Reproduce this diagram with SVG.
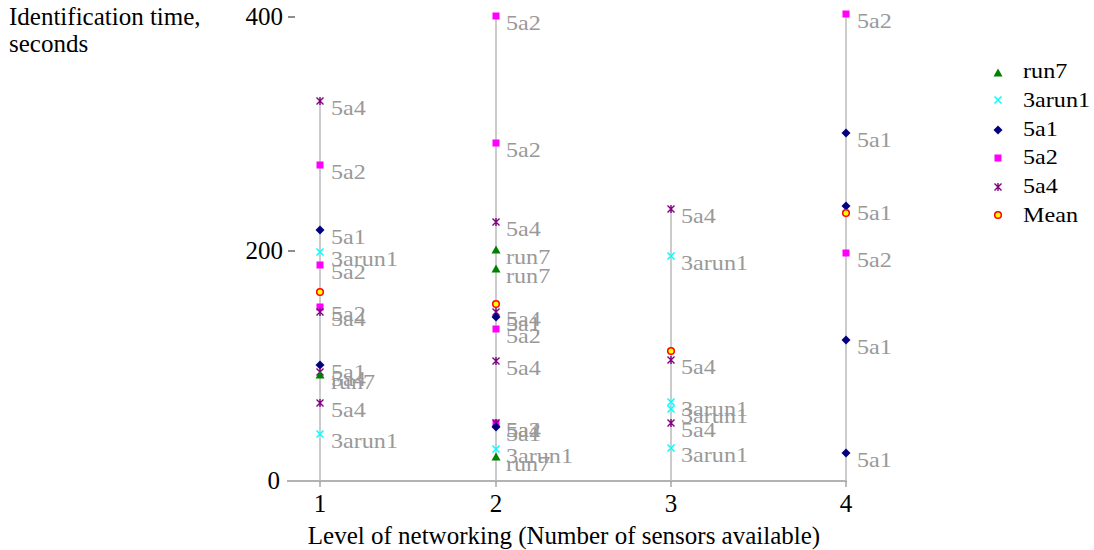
<svg xmlns="http://www.w3.org/2000/svg" xmlns:xlink="http://www.w3.org/1999/xlink" width="1094" height="550" viewBox="0 0 1094 550">
<style>
.ax{font-family:"Liberation Serif","Times New Roman",serif;font-size:25px;fill:#000}
.lb{font-family:"Liberation Serif","Times New Roman",serif;font-size:21px;fill:#999}
.lg{font-family:"Liberation Serif","Times New Roman",serif;font-size:21px;fill:#000}
.hl{stroke:#bbb;stroke-width:1.5}
.axl{stroke:#999;stroke-width:1.3}
</style>
<defs>
<path id="tri" d="M0,-4.5L4.5,3.5L-4.5,3.5Z" fill="#008000"/>
<path id="xm" d="M-3.5,-3.5L3.5,3.5M-3.5,3.5L3.5,-3.5" stroke="#00ffff" stroke-width="1.5" fill="none"/>
<path id="dia" d="M0,-4.5L4.5,0L0,4.5L-4.5,0Z" fill="#000080"/>
<rect id="sq" x="-3.5" y="-3.5" width="7" height="7" fill="#ff00ff"/>
<path id="st" d="M-3.5,-3.5L3.5,3.5M-3.5,3.5L3.5,-3.5M0,-4L0,4" stroke="#800080" stroke-width="1.4" fill="none"/>
<circle id="mn" r="3.3" fill="#ffff00" stroke="#ff0000" stroke-width="1.5"/>
</defs>
<rect width="1094" height="550" fill="#fff"/>

<g id="axes">
<line class="axl" x1="287" y1="481" x2="847" y2="481"/>
<line class="axl" x1="320" y1="481" x2="320" y2="487"/>
<line class="axl" x1="496" y1="481" x2="496" y2="487"/>
<line class="axl" x1="671" y1="481" x2="671" y2="487"/>
<line class="axl" x1="846" y1="481" x2="846" y2="487"/>
<line x1="288" y1="17" x2="295" y2="17" stroke="#444" stroke-width="1.2"/>
<line x1="288" y1="251" x2="295" y2="251" stroke="#444" stroke-width="1.2"/>
<text class="ax" x="283" y="25" text-anchor="end">400</text>
<text class="ax" x="283" y="259" text-anchor="end">200</text>
<text class="ax" x="280" y="489" text-anchor="end">0</text>
<text class="ax" x="320" y="512" text-anchor="middle">1</text>
<text class="ax" x="496" y="512" text-anchor="middle">2</text>
<text class="ax" x="671" y="512" text-anchor="middle">3</text>
<text class="ax" x="846" y="512" text-anchor="middle">4</text>
<text class="ax" x="564" y="544" text-anchor="middle">Level of networking (Number of sensors available)</text>
<text class="ax" x="9" y="25">Identification time,</text>
<text class="ax" x="9" y="52">seconds</text>
</g>

<g id="connectors">
<line class="hl" x1="320" y1="101" x2="320" y2="481"/>
<line class="hl" x1="496" y1="16" x2="496" y2="481"/>
<line class="hl" x1="671" y1="209" x2="671" y2="481"/>
<line class="hl" x1="846" y1="14" x2="846" y2="481"/>
</g>

<g id="cat1">
<use href="#st" x="320" y="101"/>
<use href="#sq" x="320" y="165"/>
<use href="#dia" x="320" y="230"/>
<use href="#xm" x="320" y="252"/>
<use href="#sq" x="320" y="265"/>
<use href="#mn" x="320" y="292"/>
<use href="#sq" x="320" y="307"/>
<use href="#st" x="320" y="312"/>
<use href="#dia" x="320" y="365"/>
<use href="#st" x="320" y="372"/>
<use href="#tri" x="320" y="375"/>
<use href="#st" x="320" y="403"/>
<use href="#xm" x="320" y="434"/>
</g>
<g id="cat2">
<use href="#sq" x="496" y="16"/>
<use href="#sq" x="496" y="143"/>
<use href="#st" x="496" y="222"/>
<use href="#tri" x="496" y="250"/>
<use href="#tri" x="496" y="269"/>
<use href="#mn" x="496" y="304"/>
<use href="#st" x="496" y="312"/>
<use href="#dia" x="496" y="317"/>
<use href="#sq" x="496" y="329"/>
<use href="#st" x="496" y="361"/>
<use href="#sq" x="496" y="423"/>
<use href="#st" x="496" y="423"/>
<use href="#dia" x="496" y="427"/>
<use href="#xm" x="496" y="449"/>
<use href="#tri" x="496" y="457"/>
</g>
<g id="cat3">
<use href="#st" x="671" y="209"/>
<use href="#xm" x="671" y="256"/>
<use href="#mn" x="671" y="351"/>
<use href="#st" x="671" y="360"/>
<use href="#xm" x="671" y="402"/>
<use href="#xm" x="671" y="409"/>
<use href="#st" x="671" y="423"/>
<use href="#xm" x="671" y="448"/>
</g>
<g id="cat4">
<use href="#sq" x="846" y="14"/>
<use href="#dia" x="846" y="133"/>
<use href="#dia" x="846" y="206"/>
<use href="#mn" x="846" y="213"/>
<use href="#sq" x="846" y="253"/>
<use href="#dia" x="846" y="340"/>
<use href="#dia" x="846" y="453"/>
</g>

<g id="labels" transform="scale(1.15 1)">
<text class="lb" x="287.8" y="115">5a4</text>
<text class="lb" x="287.8" y="179">5a2</text>
<text class="lb" x="287.8" y="244">5a1</text>
<text class="lb" x="287.8" y="266">3arun1</text>
<text class="lb" x="287.8" y="279">5a2</text>
<text class="lb" x="287.8" y="321">5a2</text>
<text class="lb" x="287.8" y="326">5a4</text>
<text class="lb" x="287.8" y="379">5a1</text>
<text class="lb" x="287.8" y="386">5a4</text>
<text class="lb" x="287.8" y="389">run7</text>
<text class="lb" x="287.8" y="417">5a4</text>
<text class="lb" x="287.8" y="448">3arun1</text>

<text class="lb" x="440" y="30">5a2</text>
<text class="lb" x="440" y="157">5a2</text>
<text class="lb" x="440" y="236">5a4</text>
<text class="lb" x="440" y="264">run7</text>
<text class="lb" x="440" y="283">run7</text>
<text class="lb" x="440" y="326">5a4</text>
<text class="lb" x="440" y="331">5a1</text>
<text class="lb" x="440" y="343">5a2</text>
<text class="lb" x="440" y="375">5a4</text>
<text class="lb" x="440" y="437">5a2</text>
<text class="lb" x="440" y="437">5a4</text>
<text class="lb" x="440" y="441">5a1</text>
<text class="lb" x="440" y="463">3arun1</text>
<text class="lb" x="440" y="471">run7</text>

<text class="lb" x="592.2" y="223">5a4</text>
<text class="lb" x="592.2" y="270">3arun1</text>
<text class="lb" x="592.2" y="374">5a4</text>
<text class="lb" x="592.2" y="416">3arun1</text>
<text class="lb" x="592.2" y="423">3arun1</text>
<text class="lb" x="592.2" y="437">5a4</text>
<text class="lb" x="592.2" y="462">3arun1</text>

<text class="lb" x="745.2" y="28">5a2</text>
<text class="lb" x="745.2" y="147">5a1</text>
<text class="lb" x="745.2" y="220">5a1</text>
<text class="lb" x="745.2" y="267">5a2</text>
<text class="lb" x="745.2" y="354">5a1</text>
<text class="lb" x="745.2" y="467">5a1</text>
</g>

<g id="legend">
<use href="#tri" x="998" y="73"/>
<use href="#xm" x="998" y="100"/>
<use href="#dia" x="998" y="130"/>
<use href="#sq" x="998" y="158"/>
<use href="#st" x="998" y="187"/>
<use href="#mn" x="998" y="215"/>
<g transform="scale(1.15 1)">
<text class="lg" x="889.6" y="78">run7</text>
<text class="lg" x="889.6" y="107">3arun1</text>
<text class="lg" x="889.6" y="136">5a1</text>
<text class="lg" x="889.6" y="164">5a2</text>
<text class="lg" x="889.6" y="193">5a4</text>
<text class="lg" x="889.6" y="222">Mean</text>
</g>
</g>
</svg>
